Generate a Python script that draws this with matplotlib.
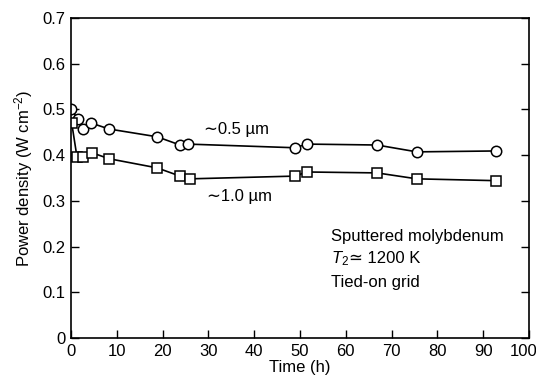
import matplotlib
matplotlib.use("Agg")
import matplotlib.pyplot as plt
import matplotlib.transforms as mtransforms

fam = ['Liberation Sans', 'DejaVu Sans']
plt.rcParams['font.family'] = fam
plt.rcParams['mathtext.fontset'] = 'custom'
plt.rcParams['mathtext.rm'] = 'Liberation Sans'
plt.rcParams['mathtext.it'] = 'Liberation Sans:italic'

# ~0.5 um film (circles)
t_05 = [0, 1.5, 2.6, 4.4, 8.3, 18.8, 23.8, 25.5, 48.9, 51.5, 66.8, 75.5, 92.8]
p_05 = [0.500, 0.479, 0.457, 0.470, 0.457, 0.440, 0.422, 0.424, 0.416, 0.424, 0.422, 0.407, 0.409]

# ~1.0 um film (squares)
t_10 = [0.15, 1.3, 2.6, 4.6, 8.3, 18.8, 23.8, 26.0, 48.9, 51.5, 66.8, 75.5, 92.8]
p_10 = [0.470, 0.396, 0.396, 0.405, 0.392, 0.372, 0.354, 0.348, 0.354, 0.363, 0.361, 0.348, 0.344]

xticks = [0, 10, 20, 30, 40, 50, 60, 70, 80, 90, 100]
yticks = [0, 0.1, 0.2, 0.3, 0.4, 0.5, 0.6, 0.7]

fs = 12

fig = plt.figure(figsize=(5.36, 3.81), dpi=100)
ax = fig.add_axes([0.1325, 0.113, 0.8545, 0.84])

ax.plot(t_05, p_05, color='black', lw=1.2, marker='o', ms=7.5, mfc='white', mec='black', mew=1.1)
ax.plot(t_10, p_10, color='black', lw=1.2, marker='s', ms=7.5, mfc='white', mec='black', mew=1.1)

ax.set_xlim(0, 100)
ax.set_ylim(0, 0.7)
ax.set_xticks(xticks)
ax.set_yticks(yticks)
ax.set_yticklabels(['0'] + ['%.1f' % v for v in yticks[1:]])
ax.tick_params(direction='in', length=6, width=1, labelsize=fs, right=True, top=False, pad=4)
for s in ax.spines.values():
    s.set_linewidth(1.2)

# nudge the "100" label so it stays inside the figure
last = ax.get_xticklabels()[-1]
last.set_transform(last.get_transform() + mtransforms.ScaledTranslation(-4 / 72, 0, fig.dpi_scale_trans))

ax.set_xlabel('Time (h)', fontsize=fs, labelpad=1)
ax.set_ylabel('Power density (W cm$^{-2}$)', fontsize=fs, labelpad=5)

ax.text(36.2, 0.455, '\u223c0.5 \u00b5m', fontsize=fs, ha='center', va='center')
ax.text(36.7, 0.309, '\u223c1.0 \u00b5m', fontsize=fs, ha='center', va='center')
ax.text(56.8, 0.221, 'Sputtered molybdenum', fontsize=fs, va='center')
ax.text(56.8, 0.173, '$T_2$', fontsize=fs, va='center')
ax.text(60.8, 0.173, '\u2243 1200 K', fontsize=fs, va='center')
ax.text(56.8, 0.122, 'Tied-on grid', fontsize=fs, va='center')

fig.savefig('out.png', dpi=100)
